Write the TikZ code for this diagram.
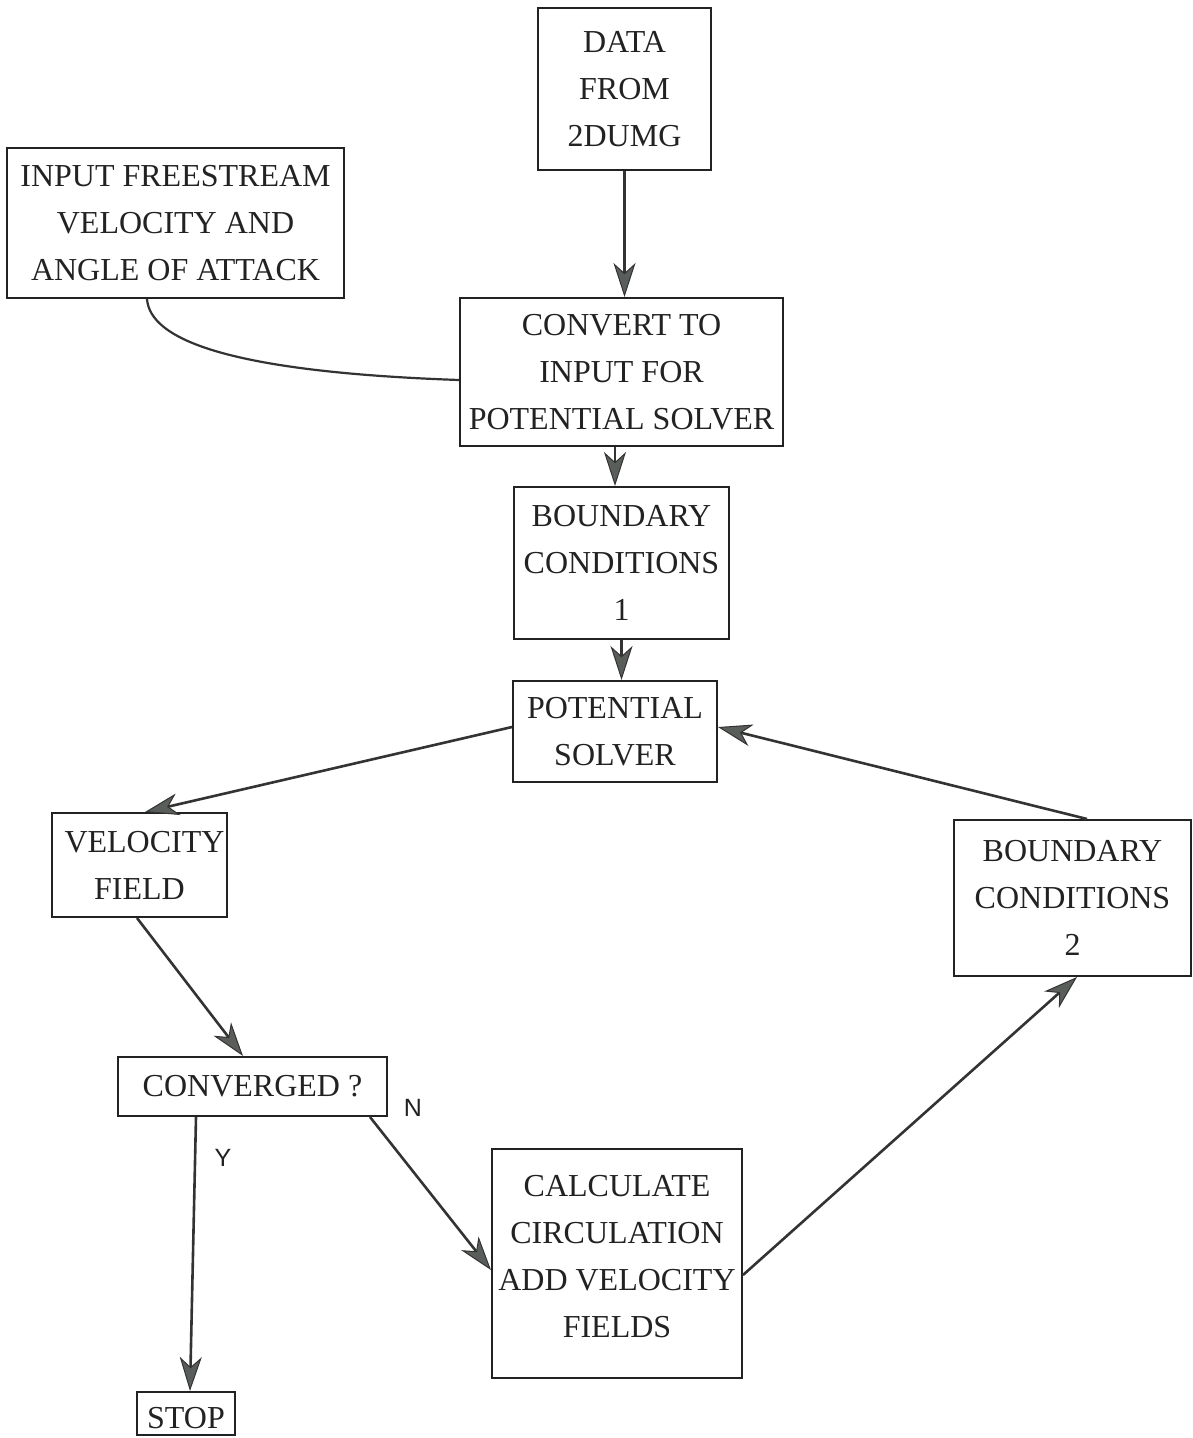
\documentclass[tikz,border=0pt]{standalone}
\usepackage{fontspec}
\setmainfont{Liberation Serif}
\newfontfamily\labelfont{Liberation Sans}
\usetikzlibrary{arrows.meta,calc}
\definecolor{ink}{HTML}{222222}
\definecolor{lineink}{HTML}{333333}
\definecolor{tipfill}{HTML}{5A5E5A}
\begin{document}
\begin{tikzpicture}[x=1pt,y=-1pt,
  box/.style={draw=ink,line width=2pt,inner sep=0pt,align=center,text=ink,
    font=\fontsize{32}{47}\selectfont},
  flow/.style={draw=lineink,line width=2.6pt,
    -{Stealth[length=34pt,width=22pt,inset=10pt,line width=1pt,color=lineink,fill=tipfill]}},
  plain/.style={draw=lineink,line width=2.2pt},
  lbl/.style={inner sep=0pt,text=ink,font=\labelfont\fontsize{25}{30}\selectfont}]
\useasboundingbox (0,0) rectangle (1192,1438);
\fill[white] (0,0) rectangle (1192,1438);

\node[box,minimum width=173pt,minimum height=162pt] (data) at (624.5,89) {DATA\\FROM\\2DUMG};
\node[box,minimum width=337pt,minimum height=150pt] (input) at (175.5,223) {INPUT FREESTREAM\\VELOCITY AND\\ANGLE OF ATTACK};
\node[box,minimum width=323pt,minimum height=148pt] (convert) at (621.5,372) {CONVERT TO\\INPUT FOR\\POTENTIAL SOLVER};
\node[box,minimum width=215pt,minimum height=152pt] (bc1) at (621.5,563) {BOUNDARY\\CONDITIONS\\1};
\node[box,minimum width=204pt,minimum height=101pt] (pot) at (615,731.5) {POTENTIAL\\SOLVER};
\node[box,minimum width=175pt,minimum height=104pt] (vel) at (139.5,865) {\hspace*{10pt}VELOCITY\\FIELD};
\node[box,minimum width=237pt,minimum height=156pt] (bc2) at (1072.5,898) {BOUNDARY\\CONDITIONS\\2};
\node[box,minimum width=269pt,minimum height=59pt] (conv) at (252.5,1086.5) {CONVERGED ?};
\node[box,minimum width=250pt,minimum height=229pt] (calc) at (617,1263.5) {\raisebox{7pt}[\height][\depth]{\parbox{250pt}{\centering CALCULATE\\CIRCULATION\\ADD VELOCITY\\FIELDS}}};
\node[box,minimum width=98pt,minimum height=43pt] (stop) at (186,1413.5) {\raisebox{-5pt}[\height][\depth]{STOP}};

\node[lbl] (nlab) at (413,1108) {N};
\node[lbl] (ylab) at (223,1158) {Y};

\draw[flow] (data.south) -- (data.south |- convert.north);
\draw[plain] ([xshift=-28.5pt]input.south) .. controls (150,340) and (230,372) .. ([yshift=-8pt]convert.west);
\draw[flow] ([xshift=-6.5pt]convert.south) -- ([xshift=-6.5pt]bc1.north);
\draw[flow] (bc1.south) -- (bc1.south |- pot.north);
\draw[flow] ([yshift=4.5pt]pot.west) -- ([xshift=5.5pt]vel.north);
\draw[flow] ([xshift=-2.5pt]vel.south) -- ([xshift=-9.5pt]conv.north);
\draw[flow] ([xshift=-56.5pt]conv.south) -- ([xshift=4pt]stop.north);
\draw[flow] ([xshift=117.5pt]conv.south) -- ([yshift=-6.5pt]calc.west);
\draw[flow] ([yshift=-11.5pt]calc.east) -- ([xshift=4.5pt]bc2.south);
\draw[flow] ([xshift=14.5pt]bc2.north) -- ([yshift=4.5pt]pot.east);
\end{tikzpicture}
\end{document}
